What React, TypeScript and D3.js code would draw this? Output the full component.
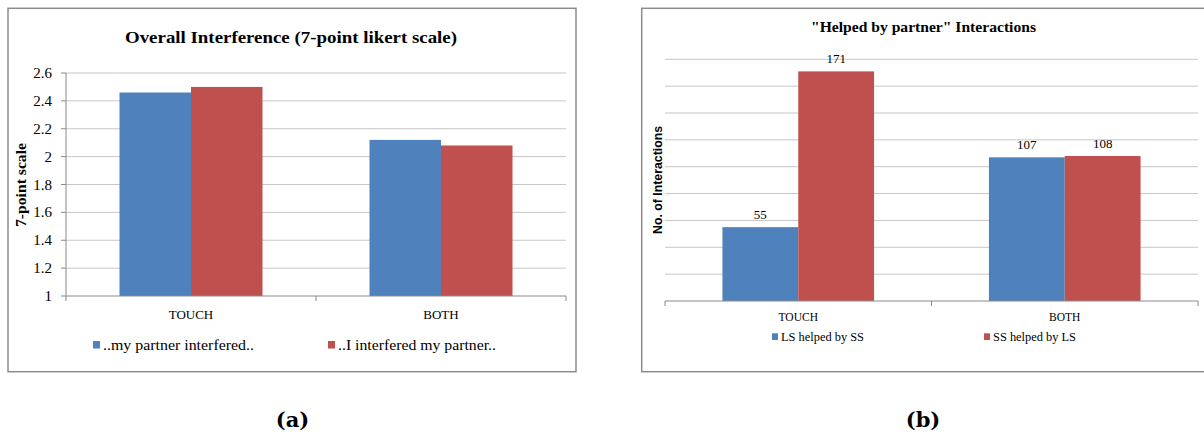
import React from "react";
import * as d3 from "d3";

// ---------- data ----------
const categories = ["TOUCH", "BOTH"];

const leftSeries = ["..my partner interfered..", "..I interfered my partner.."];
const leftValues = [
  [2.46, 2.12], // ..my partner interfered..
  [2.5, 2.08], // ..I interfered my partner..
];
const leftTicks = [1, 1.2, 1.4, 1.6, 1.8, 2, 2.2, 2.4, 2.6];
const leftTitle = "Overall Interference (7-point likert scale)";
const leftYLabel = "7-point scale";

const rightSeries = ["LS helped by SS", "SS helped by LS"];
const rightValues = [
  [55, 107], // LS helped by SS
  [171, 108], // SS helped by LS
];
const rightTicks = [0, 20, 40, 60, 80, 100, 120, 140, 160, 180];
const rightTitle = "\"Helped by partner\" Interactions";
const rightYLabel = "No. of Interactions";

const panelLabels = ["(a)", "(b)"];

const colors = ["#4F81BD", "#C0504D"];
const SERIF = "'Liberation Serif', 'Times New Roman', serif";
const SANS = "'Liberation Sans', Arial, sans-serif";
const GRID = "#c6c6c6";
const AXIS = "#8a8a8a";

function Bars({ x0, x1, y, values }: any) {
  return (
    <g>
      {values.map((vals: number[], si: number) =>
        vals.map((v: number, ci: number) => {
          const xs = x0(categories[ci]) + x1(String(si));
          return (
            <rect
              key={`${si}-${ci}`}
              x={xs}
              y={y(v)}
              width={x1.bandwidth()}
              height={y.range()[0] - y(v)}
              fill={colors[si]}
            />
          );
        })
      )}
    </g>
  );
}

function LeftChart() {
  const plot = { l: 66, r: 566, t: 73, b: 296 };
  const x0 = d3.scaleBand<string>().domain(categories).range([plot.l, plot.r]).padding(0);
  const gw = x0.bandwidth() * 0.572;
  const x1 = d3
    .scaleBand<string>()
    .domain(leftSeries.map((_, i) => String(i)))
    .range([(x0.bandwidth() - gw) / 2, (x0.bandwidth() + gw) / 2]);
  const y = d3.scaleLinear().domain([1, 2.6]).range([plot.b, plot.t]);
  const fmt = d3.format("~g");
  const tickXs = [plot.l, ...categories.map((c) => (x0(c) as number) + x0.bandwidth())];
  return (
    <g>
      <rect x={8} y={8.3} width={568} height={363.4} fill="#fff" stroke="#8c8c8c" strokeWidth={1.5} />
      <text
        x={291}
        y={37}
        textAnchor="middle"
        dominantBaseline="central"
        fontFamily={SERIF}
        fontWeight="bold"
        fontSize={17}
        textLength={332}
        lengthAdjust="spacingAndGlyphs"
      >
        {leftTitle}
      </text>
      {leftTicks.map((t) => (
        <g key={t}>
          {t !== 1 && <line x1={plot.l} x2={plot.r} y1={y(t)} y2={y(t)} stroke={GRID} strokeWidth={1} />}
          <line x1={plot.l - 5} x2={plot.l} y1={y(t)} y2={y(t)} stroke={AXIS} strokeWidth={1} />
          <text
            x={52}
            y={y(t)}
            textAnchor="end"
            dominantBaseline="central"
            fontFamily={SERIF}
            fontSize={15}
          >
            {fmt(t)}
          </text>
        </g>
      ))}
      <Bars x0={x0} x1={x1} y={y} values={leftValues} />
      <line x1={plot.l} x2={plot.l} y1={plot.t} y2={plot.b} stroke={AXIS} strokeWidth={1} />
      <line x1={plot.l} x2={plot.r} y1={plot.b} y2={plot.b} stroke={AXIS} strokeWidth={1} />
      {tickXs.map((tx, i) => (
        <line key={i} x1={tx} x2={tx} y1={plot.b} y2={plot.b + 5} stroke={AXIS} strokeWidth={1} />
      ))}
      {categories.map((c) => (
        <text
          key={c}
          x={(x0(c) as number) + x0.bandwidth() / 2}
          y={314}
          textAnchor="middle"
          dominantBaseline="central"
          fontFamily={SERIF}
          fontSize={13}
        >
          {c}
        </text>
      ))}
      <text
        transform={`translate(21,185) rotate(-90)`}
        textAnchor="middle"
        dominantBaseline="central"
        fontFamily={SERIF}
        fontWeight="bold"
        fontSize={14}
        textLength={84}
        lengthAdjust="spacingAndGlyphs"
      >
        {leftYLabel}
      </text>
      {leftSeries.map((s, i) => {
        const lx = [93, 328][i];
        return (
          <g key={s}>
            <rect x={lx} y={341} width={7} height={7.5} fill={colors[i]} />
            <text
              x={lx + 10}
              y={344.5}
              dominantBaseline="central"
              fontFamily={SERIF}
              fontSize={15}
              textLength={i === 0 ? 151 : 158}
              lengthAdjust="spacingAndGlyphs"
            >
              {s}
            </text>
          </g>
        );
      })}
    </g>
  );
}

function RightChart() {
  const plot = { l: 665, r: 1198, t: 59.3, b: 301 };
  const x0 = d3.scaleBand<string>().domain(categories).range([plot.l, plot.r]).padding(0);
  const gw = x0.bandwidth() * 0.569;
  const x1 = d3
    .scaleBand<string>()
    .domain(rightSeries.map((_, i) => String(i)))
    .range([(x0.bandwidth() - gw) / 2, (x0.bandwidth() + gw) / 2]);
  const y = d3.scaleLinear().domain([0, 180]).range([plot.b, plot.t]);
  const tickXs = [plot.l, ...categories.map((c) => (x0(c) as number) + x0.bandwidth())];
  return (
    <g>
      <rect x={641.7} y={8.3} width={600} height={363.4} fill="#fff" stroke="#8c8c8c" strokeWidth={1.5} />
      <text
        x={923.5}
        y={27}
        textAnchor="middle"
        dominantBaseline="central"
        fontFamily={SERIF}
        fontWeight="bold"
        fontSize={15}
        textLength={225}
        lengthAdjust="spacingAndGlyphs"
      >
        {rightTitle}
      </text>
      {rightTicks
        .filter((t) => t !== 0)
        .map((t) => (
          <line key={t} x1={plot.l} x2={plot.r} y1={y(t)} y2={y(t)} stroke={GRID} strokeWidth={1} />
        ))}
      <Bars x0={x0} x1={x1} y={y} values={rightValues} />
      {rightValues.map((vals, si) =>
        vals.map((v, ci) => (
          <text
            key={`${si}-${ci}`}
            x={(x0(categories[ci]) as number) + (x1(String(si)) as number) + x1.bandwidth() / 2}
            y={y(v) - 12.5}
            textAnchor="middle"
            dominantBaseline="central"
            fontFamily={SERIF}
            fontSize={13}
          >
            {v}
          </text>
        ))
      )}
      <line x1={plot.l} x2={plot.r} y1={plot.b} y2={plot.b} stroke={AXIS} strokeWidth={1} />
      {tickXs.map((tx, i) => (
        <line key={i} x1={tx} x2={tx} y1={plot.b} y2={plot.b + 5} stroke={AXIS} strokeWidth={1} />
      ))}
      {categories.map((c) => (
        <text
          key={c}
          x={(x0(c) as number) + x0.bandwidth() / 2}
          y={316.7}
          textAnchor="middle"
          dominantBaseline="central"
          fontFamily={SERIF}
          fontSize={11.5}
        >
          {c}
        </text>
      ))}
      <text
        transform={`translate(658,180) rotate(-90)`}
        textAnchor="middle"
        dominantBaseline="central"
        fontFamily={SANS}
        fontWeight="bold"
        fontSize={12}
        textLength={108}
        lengthAdjust="spacingAndGlyphs"
      >
        {rightYLabel}
      </text>
      {rightSeries.map((s, i) => {
        const lx = [772, 984][i];
        return (
          <g key={s}>
            <rect x={lx} y={333.3} width={6} height={6.7} fill={colors[i]} />
            <text
              x={lx + 9}
              y={336.7}
              dominantBaseline="central"
              fontFamily={SERIF}
              fontSize={12.5}
              textLength={83}
              lengthAdjust="spacingAndGlyphs"
            >
              {s}
            </text>
          </g>
        );
      })}
    </g>
  );
}

export default function App() {
  return (
    <svg
      width={1204}
      height={434}
      viewBox="0 0 1204 434"
      style={{ position: "fixed", left: 0, top: 0, background: "#fff" }}
    >
      <rect x={0} y={0} width={1204} height={434} fill="#fff" />
      <LeftChart />
      <RightChart />
      {panelLabels.map((p, i) => (
        <text
          key={p}
          x={[292.5, 923][i]}
          y={419}
          textAnchor="middle"
          dominantBaseline="central"
          fontFamily="'DejaVu Serif', serif"
          fontWeight="bold"
          fontSize={21}
        >
          {p}
        </text>
      ))}
    </svg>
  );
}
